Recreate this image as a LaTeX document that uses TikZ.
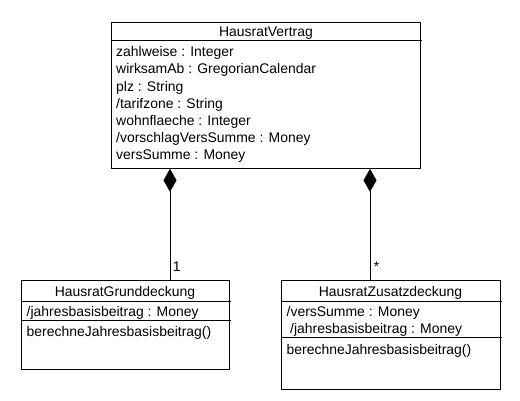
\documentclass[tikz,border=0pt]{standalone}
\usepackage{fontspec}
\setmainfont{Liberation Sans}
\usetikzlibrary{positioning, arrows.meta}

\tikzset{
  classbox/.style={draw, line width=0.8pt, inner sep=0, anchor=north west},
  entry/.style={inner sep=0, anchor=base west},
  classname/.style={inner sep=0, anchor=base},
  composition/.style={{Diamond[length=23pt,width=13pt]}-, line width=0.8pt},
}

\begin{document}
\begin{tikzpicture}[x=1pt, y=-1pt, font=\fontsize{13.95}{17.2}\selectfont]
  \useasboundingbox (0,0) rectangle (520,400);
  % HausratVertrag
  \node[classbox, minimum width=309pt, minimum height=146pt] (vertrag) at (111,22) {};
  \draw[line width=0.8pt] (vertrag.north west) ++(0,18) -- ++(311,0);
  \node[classname] (vertragname) at (266,36.7) {HausratVertrag};
  \foreach \t [count=\i from 0] in {zahlweise : Integer, wirksamAb : GregorianCalendar,
      plz : String, /tarifzone : String, wohnflaeche : Integer,
      /vorschlagVersSumme : Money, versSumme : Money}
    \node[entry] (vattr\i) at (116,56.7+17.2*\i) {\t};
  % HausratGrunddeckung
  \node[classbox, minimum width=208pt, minimum height=89pt] (grund) at (21,280) {};
  \draw[line width=0.8pt] (grund.north west) ++(0,21) -- ++(210,0);
  \draw[line width=0.8pt] (grund.north west) ++(0,40) -- ++(210,0);
  \node[classname] (grundname) at (125,296.7) {HausratGrunddeckung};
  \node[entry] (gattr) at (26.5,316.7) {/jahresbasisbeitrag : Money};
  \node[entry] (gmeth) at (26.5,336.7) {berechneJahresbasisbeitrag()};
  % HausratZusatzdeckung
  \node[classbox, minimum width=219pt, minimum height=109pt] (zusatz) at (281,280) {};
  \draw[line width=0.8pt] (zusatz.north west) ++(0,21) -- ++(221,0);
  \draw[line width=0.8pt] (zusatz.north west) ++(0,57) -- ++(221,0);
  \node[classname] (zusatzname) at (390.5,296.7) {HausratZusatzdeckung};
  \node[entry] (zattr1) at (286.5,316.7) {/versSumme : Money};
  \node[entry] (zattr2) at (290,333.3) {/jahresbasisbeitrag : Money};
  \node[entry] (zmeth) at (286.5,354) {berechneJahresbasisbeitrag()};
  % Kompositionen
  \coordinate (gtop) at (170,280);
  \coordinate (ztop) at (370,280);
  \draw[composition] (vertrag.south -| gtop) -- (gtop)
    node[entry, pos=1, xshift=2.5pt, yshift=9pt] (gmult) {1};
  \draw[composition] (vertrag.south -| ztop) -- (ztop)
    node[entry, pos=1, xshift=3.5pt, yshift=9pt] (zmult) {*};
\end{tikzpicture}
\end{document}
